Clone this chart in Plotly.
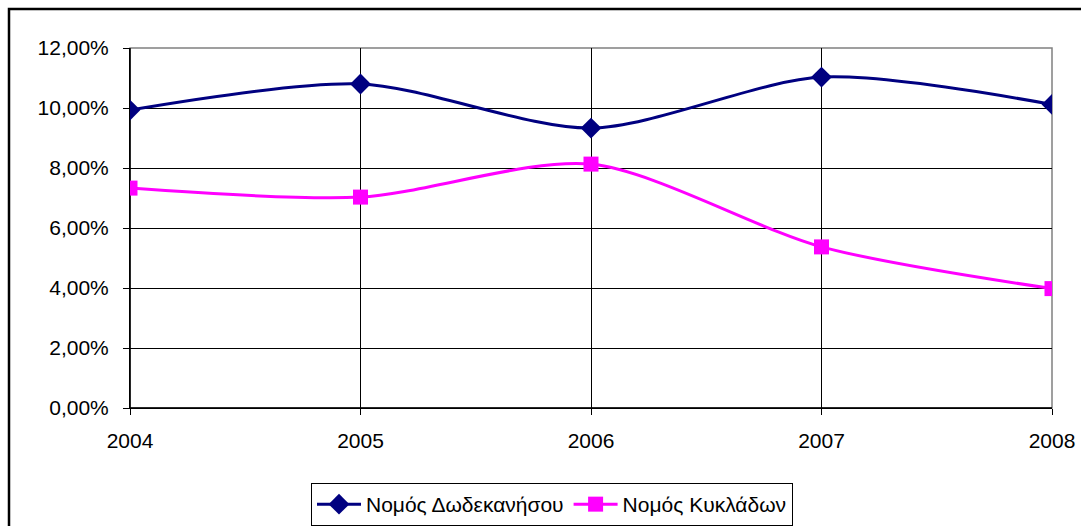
import plotly.graph_objects as go

years = [2004, 2005, 2006, 2007, 2008]
dodecanese = [0.0993, 0.1080, 0.0933, 0.1103, 0.1012]
cyclades = [0.0733, 0.0703, 0.0813, 0.0537, 0.0398]
names = ["Νομός Δωδεκανήσου", "Νομός Κυκλάδων"]

W, H = 1081, 526
L, R, T, B = 130, 1052, 48, 408

fig = go.Figure()
fig.add_trace(go.Scatter(x=years, y=dodecanese, name=names[0], mode="lines+markers",
                         line=dict(color="#000080", width=3, shape="spline", smoothing=0.8),
                         marker=dict(symbol="diamond", size=16, color="#000080")))
fig.add_trace(go.Scatter(x=years, y=cyclades, name=names[1], mode="lines+markers",
                         line=dict(color="#FF00FF", width=3, shape="spline", smoothing=0.8),
                         marker=dict(symbol="square", size=15, color="#FF00FF")))

def px_x(p):
    return (p - L) / (R - L)

def px_y(p):
    return (B - p) / (B - T)

font = dict(family="Liberation Sans, Arial", size=21, color="black")

fig.update_layout(
    width=W, height=H,
    margin=dict(l=L, r=W - R, t=T, b=H - B, autoexpand=False),
    paper_bgcolor="white", plot_bgcolor="white",
    separators=",.",
    font=font,
    showlegend=True,
    legend=dict(orientation="h", x=px_x(552), xanchor="center", y=px_y(483), yanchor="top",
                bordercolor="black", borderwidth=1, itemwidth=44,
                font=dict(family="Liberation Sans, Arial", size=21, color="black"),
                tracegroupgap=0),
    xaxis=dict(range=[2004, 2008], tickvals=years, ticktext=[str(y) for y in years],
               showgrid=True, gridcolor="black", gridwidth=1,
               showline=True, linecolor="black", linewidth=1,
               ticks="outside", ticklen=6, tickcolor="black", zeroline=False,
               ticklabelstandoff=8),
    yaxis=dict(range=[0, 0.12], dtick=0.02, tickformat=".2%",
               showgrid=True, gridcolor="black", gridwidth=1,
               showline=True, linecolor="black", linewidth=1,
               ticks="outside", ticklen=6, tickcolor="black", zeroline=False,
               ticklabelstandoff=10),
    shapes=[
        dict(type="rect", xref="paper", yref="paper", x0=0, x1=1, y0=0, y1=1,
             line=dict(color="#808080", width=1.5), layer="between"),
        dict(type="line", xref="paper", yref="paper", x0=0, x1=0, y0=0, y1=1,
             line=dict(color="black", width=1.5), layer="between"),
        dict(type="line", xref="paper", yref="paper", x0=0, x1=1, y0=0, y1=0,
             line=dict(color="black", width=1.5), layer="between"),
        dict(type="rect", xref="paper", yref="paper",
             x0=px_x(9), x1=px_x(1100), y0=px_y(560), y1=px_y(9),
             line=dict(color="black", width=2.5), layer="below"),
    ],
)

fig.write_html("out.html", config={"displayModeBar": False},
               post_script="document.body.style.margin='0';document.body.style.overflow='hidden';")
